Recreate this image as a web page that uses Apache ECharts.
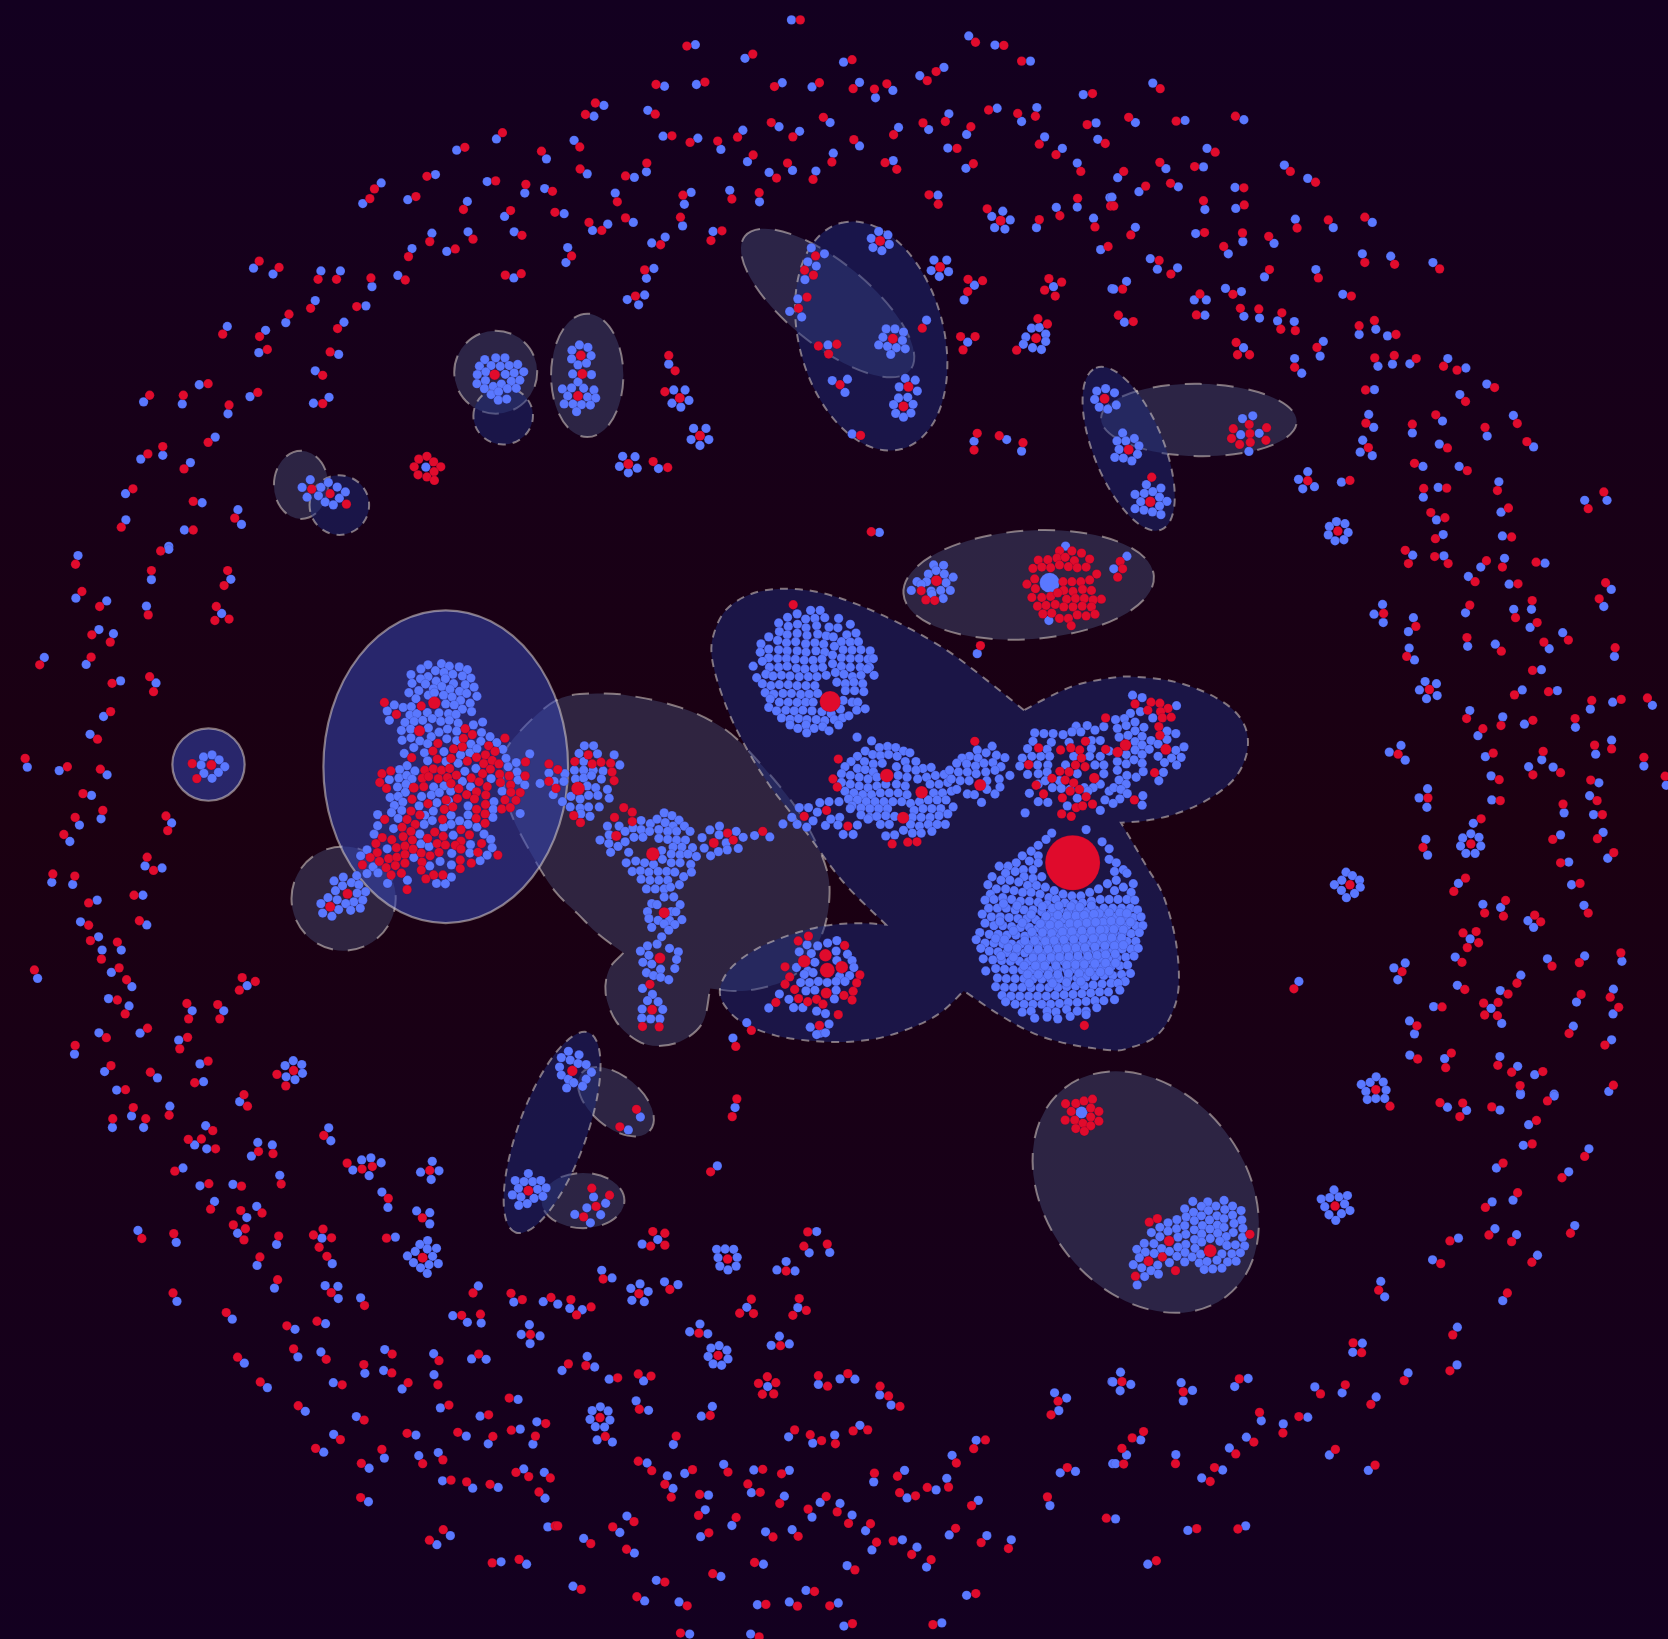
<!DOCTYPE html>
<html><head><meta charset="utf-8"><style>html,body{margin:0;padding:0;background:#1a0012}#c{width:1668px;height:1639px}</style>
<script src="https://cdn.jsdelivr.net/npm/echarts@6/dist/echarts.min.js"></script></head><body><div id="c"></div>
<script>
// Node readings per sheet of the picture (sheet-local reading units, three to a picture unit).
const blueNW=[[1400,398],[1288,430],[1541,455],[1228,500],[1075,524],[1023,583],[1150,572],[1374,520],[1480,553],[1536,540],[1318,577],[1423,620],[1218,668],[1320,664],[1450,664],[1162,712],[1260,720],[715,768],[770,785],[905,776],[960,776],[1122,789],[1049,821],[1449,796],[889,861],[1032,876],[970,923],[806,924],[641,935],[749,946],[730,1010],[955,1015],[889,1062],[562,1102],[405,1151],[514,1157],[705,1136],[928,1138],[884,1155],[643,1185],[607,1252],[459,1304],[397,1315],[537,1325],[354,1414],[570,1440],[671,1460],[681,1502],[355,1489],[520,1518],[476,1565],
[1367,1030],[1398,1025],[1424,1025],[1352,1049],[1385,1047],[1411,1049],[1436,1047],[1460,1044],[1370,1065],[1425,1072],[1450,1068],[1477,1065],[1346,1073],[1345,1099],[1369,1090],[1442,1092],[1466,1089],[1366,1113],[1391,1107],[1414,1100],[1431,1113],[1456,1112],[1385,1130],[1406,1122],[1405,1146],[1429,1143],
[875,1374],[852,1396],[866,1424],[905,1396],[926,1382],[951,1395],[974,1409],[898,1420],[957,1427],[917,1438],[940,1446],[1201,1338]];
const redNW=[[1417,380],[1311,422],[1527,433],[1204,505],[1056,541],[1043,569],[1173,563],[1398,518],[1483,528],[1558,548],[1307,600],[1440,603],[1565,608],[1212,692],[1334,685],[1472,674],[1152,735],[1284,713],[731,748],[787,766],[897,800],[949,800],[1143,802],[1046,796],[1425,788],[1470,784],[876,883],[1006,878],[952,941],[815,900],[628,957],[732,964],[754,1001],[931,1008],[910,1075],[587,1099],[422,1132],[517,1132],[727,1124],[910,1156],[646,1160],[587,1267],[459,1279],[417,1300],[519,1343],[375,1400],[545,1436],[662,1484],[342,1510],[545,1518],
[879,1401],[931,1414],[977,1444],[1181,1315],[1204,1307],[1223,1323],[1243,1337],[1168,1337],[1224,1351],[1179,1360],[1204,1366],[1225,1376]];
const hubNW=[[1395,1073,10.5]];

const blueN=[[664,57],[393,128],[533,167],[811,178],[1164,103],[1238,129],[1338,175],[306,247],[396,242],[638,237],[722,249],[856,236],[901,280],[950,259],[1026,217],[1094,193],[135,302],[107,333],[259,316],[1487,271],[1244,310],[1356,308],[1313,348],[1108,326],[1523,352],[302,390],[400,396],[465,428],[527,373],[629,363],[687,376],[773,351],[856,418],[782,439],[1051,371],[966,365],[1158,385],[1105,424],[1378,392],[1428,425],[1528,399],[1470,467],[51,402],[88,498],[221,508],[255,492],[540,463],[601,494],[667,488],[733,490],[951,460],[1156,482],[167,553],[381,551],[362,585],[490,545],[574,578],[1077,559],[23,612],[218,637],[146,642],[103,660],[357,647],[270,696],[308,679],[443,663],[1562,566],[1470,593],[1411,594],[1516,625],[1355,652],[1536,715],[33,709],[28,752],[276,769],[255,797],[201,858],[250,845],[233,873],[720,710],[757,727],[710,750],[734,762],[702,801],[682,856],[659,892],[693,908],[1045,917],[318,1043],[767,988],[1161,980],[1179,1264],[1271,1259],[1313,1292],[835,1243],[289,1342],[912,1525],
[66,988],[45,1003],[90,995],[44,1028],[99,1019],[62,1045],[86,1040],[47,1071],[100,1073],[62,1094],[18,1114],[44,1111],[78,1112],[107,1117],[33,1134],[89,1137],[112,1140],[23,1157],[48,1157],[72,1159],[97,1160],[58,1179],
[332,1117],[364,1117],[327,1155],[352,1166],[375,1147],[388,1227],[423,1227],[381,1259],[431,1259],[406,1276],[188,1307],[223,1308],[179,1336],[229,1341],[204,1354],
[910,663],[936,673],[889,683],[940,700],[894,709],[919,718],[931,942],[956,942],[980,951],[922,966],[977,975],[910,988],[935,992],[960,996],[985,999],[944,1015],[779,1090],[822,1086],[815,1124],
[985,1084],[1013,1089],[968,1108],[1019,1120],[966,1140],[992,1138],[952,1159],[1007,1158],[958,1184],[1001,1183],[980,1195],
[1066,745],[1102,745],[1058,775],[1107,778],[1081,792],[1180,817],[1151,859],[1403,821],[1568,827],
[1341,940],[1363,938],[1325,965],[1381,957],[1318,986],[1381,978],[1344,996],[1369,1001],[1260,605],[1229,620],[1281,630],[1237,652],[1266,656],
[1525,1120],[1550,1113],[1519,1144],[1532,1166],[1556,1172],[1575,1125],[1580,1160]];
const redN=[[689,57],[369,132],[555,155],[835,171],[1183,121],[1263,130],[1313,175],[282,242],[420,235],[616,248],[743,237],[838,254],[898,255],[933,240],[1047,231],[1072,205],[111,295],[83,328],[280,327],[1513,268],[1220,315],[1352,333],[1302,325],[1098,348],[1498,357],[327,389],[378,408],[456,404],[512,393],[607,351],[668,392],[754,336],[840,400],[778,464],[1035,352],[952,386],[1170,363],[1131,425],[1363,413],[1410,443],[1549,411],[1480,491],[67,421],[68,484],[196,504],[256,467],[556,444],[622,510],[653,467],[725,514],[928,466],[961,485],[1177,469],[173,578],[358,559],[496,570],[573,552],[1052,558],[1078,585],[196,624],[93,637],[129,660],[351,622],[295,701],[468,661],[437,689],[1564,590],[1471,568],[1421,618],[1520,650],[1363,629],[1557,706],[44,733],[250,773],[224,848],[732,733],[701,774],[726,788],[708,851],[684,883],[1033,940],[318,1018],[336,1062],[740,991],[792,986],[769,1014],[1141,964],[1182,964],[1148,1002],[1188,1241],[1179,1289],[1250,1248],[1317,1268],[859,1247],[274,1322],[315,1339],[889,1523],
[307,1122],[801,1102],[1162,800],[1203,804],[1161,835],[1390,798],[1426,808],[1378,831],[1408,848],[1359,913],[1386,928],[1299,1003],[1216,598]];
const hubN=[[70,1018,10],[74,1071,10],[62,1134,10],[349,1140,10],[406,1248,10],[204,1329,10],[914,690,10],[950,970,10],[994,1108,10],[980,1164,10],[1083,765,10],[1354,969,10],[1254,632,10],[1547,1142,10]];

const blueNE=[[115,238],[66,351],[206,345],[372,343],[268,425],[152,483],[258,478],[16,509],[76,549],[187,535],[347,537],[0,565],[262,600],[349,597],[486,473],[552,511],[517,628],[624,652],[734,637],[66,651],[236,669],[369,692],[457,697],[328,727],[108,741],[128,771],[185,767],[430,793],[575,772],[706,727],[786,734],[905,752],[41,806],[5,828],[320,826],[365,835],[232,859],[266,859],[262,903],[372,906],[416,911],[651,843],[35,923],[467,919],[514,921],[697,958],[744,943],[777,962],[596,978],[371,996],[587,1020],[515,1027],[535,1069],[750,1049],[791,1043],[840,1042],[947,1027],[998,1054],[1057,1100],[981,1130],[740,1116],[724,1187],[738,1224],[707,1261],[700,1295],[734,1305],[847,1240],[932,1206],[923,1272],[1058,1249],[1132,1190],[1189,1280],[877,1336],[979,1336],[1091,1380],[878,1424],[920,1396],[1333,1433],[1396,1433],[1097,1467],[915,1489],[934,1531],[1101,1535],
[368,1199],[397,1191],[363,1245],[415,1241],[386,1293],[30,1240],[63,1256],[14,1263],[39,1263],[76,1277],[20,1287],[72,1301],[8,1310],[32,1312],[56,1320],[97,1388],[138,1398],[65,1416],[91,1413],[115,1408],[134,1424],[81,1437],[155,1436],[134,1449],[65,1457],[90,1461],[114,1466],[138,1474],[552,1351],[526,1373],[571,1394],[538,1400],[647,1381],[633,1494],[613,1508],[657,1500],[610,1532],[666,1525],[629,1549],[654,1546]];
const redNE=[[136,254],[47,336],[181,347],[348,333],[291,436],[135,465],[233,477],[33,491],[95,533],[165,525],[372,538],[5,590],[258,575],[373,587],[503,491],[574,522],[522,653],[610,630],[713,622],[53,673],[261,666],[368,667],[442,677],[315,706],[133,746],[166,785],[444,772],[582,796],[713,752],[797,757],[924,770],[30,828],[341,843],[248,842],[238,902],[362,883],[414,885],[675,848],[18,903],[60,921],[479,896],[476,943],[517,947],[697,933],[740,918],[801,958],[578,995],[350,981],[354,1016],[388,1016],[515,1052],[741,1025],[796,1018],[858,1027],[935,1049],[973,1060],[1079,1110],[997,1150],[715,1117],[716,1212],[723,1282],[847,1215],[913,1188],[946,1283],[1052,1224],[1143,1213],[1170,1265],[853,1327],[1002,1348],[1087,1405],[879,1399],[944,1398],[1387,1409],[1343,1457],[1118,1455],[899,1468],[939,1483],[912,1543],[1127,1538],
[387,1216],[342,1228],[436,1225],[337,1256],[389,1242],[434,1261],[360,1273],[390,1267],[112,1367],[671,1376]];
const hubNE=[[47,1288,10],[108,1437,10.5],[552,1377,9.5],[637,1521,9.5]];

const blueW=[[220,25],[476,7],[427,94],[651,93],[214,147],[301,155],[413,170],[625,191],[279,237],[320,249],[125,317],[243,337],[340,384],[440,390],[292,486],[254,537],[77,631],[167,641],[302,653],[258,712],[285,779],[224,797],[197,844],[484,791],[409,914],[457,920],[146,961],[205,967],[274,1012],[403,998],[227,1074],[414,1083],[278,1117],[288,1155],[342,1155],[106,1236],[314,1219],[372,1260],[306,1294],[364,1315],[697,1257],[542,1329],[631,1329],[395,1393],[279,1392],[504,1413],[210,1453],[295,1503],[564,1481],[444,1521],[574,1532],[329,1556],
[574,602],[598,596],[618,610],[567,625],[634,630],[616,646],[575,649],[598,663],
[1207,338],[1245,335],[1267,342],[1295,344],[1187,350],[1228,355],[1318,352],[1252,360],[1159,366],[1207,372],[1277,365],[1304,370],[1328,376],[1186,378],[1230,385],[1256,378],[1162,391],[1200,393],[1246,400],[1279,392],[1312,395],[1337,402],[1222,407],[1269,408],[1153,418],[1181,412],[1208,425],[1251,425],[1296,414],[1316,420],[1345,428],[1173,435],[1225,418],[1275,430],[1299,440],[1257,450],[1281,453],[1326,448],[1112,453],[1137,460],[1160,458],[1304,465],[1092,470],[1156,482],[1176,478],[1205,475],[1238,476],[1265,478],[1286,480],[1330,472],[1098,497],[1142,503],[1168,500],[1192,497],[1219,492],[1243,500],[1267,497],[1292,505],[1335,510],[1361,502],[1132,526],[1158,522],[1208,519],[1238,531],[1262,522],[1288,528],[1358,532],[1134,554],[1159,547],[1184,556],[1216,544],[1260,550],[1288,555],[1328,565],[1356,557],[1382,544],[1401,561],[1167,575],[1206,564],[1325,590],[1345,578],[1418,580],[1140,592],[1197,590],[1252,587],[1299,596],[1427,606],[1494,593],[1206,613],[1258,615],[1292,620],[1433,630],[1456,618],[1148,627],[1127,638],[1170,642],[1342,635],[1311,643],[1458,645],[1098,667],[1125,662],[1147,655],[1162,665],[1461,668],[1385,664],[1304,672],[1480,682],[1523,678],[1121,688],[1145,680],[1223,688],[1252,685],[1327,687],[1143,703],[1216,711],[1239,704],[1271,700],[1416,700],[1100,718],[1123,715],[1189,715],[1232,733],[1136,731],[1112,741],[1182,742],[1265,728],[1320,742],[1393,730],[1133,755],[1104,761],[1065,767],[1222,757],[1198,769],[1272,769],[1320,768],[1391,752],[1467,764],[1123,778],[1390,775],[1065,799],[1219,784],[1196,795],[1296,785],[1272,795],[1320,795],[1110,807],[1251,803],[1345,803],[1055,823],[1184,823],[1278,826],[1365,823],[1384,838],[1092,865],[1187,851],[1210,858],[1327,853],[1388,862],[1167,890],[1274,878],[1325,877],[1374,883],[1354,899],[1212,914],[1241,901],[1273,911],[1149,955],[1093,964],[1273,946],[1231,964],[1256,965],[1035,868],[1017,885],[1052,917],[1066,934],[1035,936],
[1006,942],[942,957],[968,946],[991,962],[1012,968],[966,971],[946,985],[1031,988],[1007,992],[925,1005],[951,1011],[998,1017],[1023,1012],[905,1022],[975,1022],[955,1039],[1016,1035],[989,1041],[910,1049],[936,1058],
[827,1472],[804,1486],[851,1483],[807,1518],[853,1508],[832,1526]];
const redW=[[213,50],[453,12],[427,68],[642,68],[632,111],[231,128],[281,171],[418,195],[610,171],[606,211],[646,207],[259,252],[311,273],[112,338],[257,316],[316,391],[422,372],[433,415],[312,472],[275,551],[71,606],[190,630],[283,637],[234,707],[290,755],[212,775],[180,824],[468,771],[473,813],[415,889],[433,927],[149,937],[211,943],[250,1020],[378,998],[250,1084],[393,1071],[255,1128],[286,1181],[331,1132],[97,1212],[336,1206],[357,1240],[331,1298],[353,1338],[683,1234],[720,1245],[675,1270],[527,1308],[532,1352],[614,1311],[620,1352],[416,1379],[300,1406],[529,1405],[507,1438],[212,1428],[313,1486],[587,1473],[424,1505],[549,1535],[354,1555],[542,621],[555,664],
[1084,446],[1188,456],[1118,480],[1312,521],[1332,538],[1307,549],[1424,548],[1235,563],[1304,573],[1279,579],[1221,585],[1378,570],[1396,586],[1369,596],[1161,604],[1233,608],[1272,606],[1344,603],[1318,614],[1364,621],[1388,612],[1407,622],[1482,616],[1198,640],[1222,636],[1245,640],[1268,635],[1077,650],[1102,642],[1383,637],[1287,654],[1409,651],[1361,650],[1436,656],[1481,656],[1191,663],[1209,658],[1236,664],[1262,661],[1329,662],[1071,675],[1351,673],[1272,678],[1411,675],[1440,682],[1090,692],[1195,687],[1294,693],[1374,687],[1344,702],[1316,710],[1441,703],[1467,704],[1162,723],[1258,725],[1290,721],[1338,722],[1370,711],[1424,725],[1455,726],[1207,736],[1253,752],[1277,745],[1369,738],[1344,752],[1415,751],[1439,747],[1159,757],[1184,768],[1368,765],[1343,778],[1085,781],[1148,781],[1248,781],[1368,792],[1134,803],[1171,795],[1159,815],[1226,817],[1300,810],[1078,833],[1137,830],[1105,839],[1206,835],[1250,829],[1324,825],[1060,850],[1163,840],[1233,850],[1256,854],[1300,843],[1284,855],[1358,850],[1118,862],[1142,857],[1165,866],[1300,866],[1348,875],[1064,876],[1188,877],[1238,875],[1213,885],[1404,883],[1044,890],[1096,893],[1119,889],[1142,881],[1298,897],[1070,901],[1190,903],[1329,906],[1022,911],[1089,919],[1115,913],[1142,906],[1298,922],[1188,926],[1132,935],[1103,940],[1223,940],[1249,940],[1201,951],[1148,982],
[781,1511],[806,1544]];
const hubW=[[596,625,10],[1225,447,12.5],[1183,527,11],[1167,690,10],[980,994,10],[931,1031,10],[828,1500,9.5]];

const blueC=[[680,192],[718,182],[745,182],[653,202],[704,207],[730,205],[758,203],[797,205],[628,218],[655,228],[681,222],[705,232],[735,226],[770,230],[830,222],[630,243],[652,252],[680,248],[708,254],[738,250],[762,255],[795,232],[820,252],[846,247],[600,258],[625,268],[650,275],[676,272],[704,278],[730,275],[755,279],[782,258],[805,272],[830,273],[853,272],[578,278],[600,293],[628,295],[652,298],[680,298],[705,302],[733,298],[758,302],[785,285],[810,295],[835,296],[860,295],[886,298],[576,302],[600,318],[625,320],[650,320],[675,322],[700,325],[725,325],[750,322],[780,310],[805,318],[830,320],[855,320],[880,322],[895,320],[556,342],[582,328],[602,345],[628,345],[652,342],[678,348],[702,350],[728,348],[752,345],[780,335],[805,342],[830,345],[858,345],[884,345],[566,375],[592,365],[612,370],[636,368],[660,370],[686,372],[712,372],[736,372],[762,368],[788,360],[812,365],[836,372],[860,368],[897,368],[878,350],[582,392],[606,398],[630,395],[655,395],[680,398],[705,398],[730,398],[792,388],[816,392],[840,388],[865,392],[590,418],[614,422],[640,420],[664,420],[690,423],[714,422],[738,420],[816,412],[842,412],[868,415],[604,436],[630,445],[655,445],[680,446],[704,445],[725,445],[810,440],[835,445],[851,445],[600,460],[622,470],[648,468],[672,470],[696,468],[722,470],[750,472],[776,478],[802,465],[848,468],[872,464],[636,490],[660,494],[684,492],[708,495],[734,495],[758,498],[785,495],[808,490],[826,484],[660,510],[682,520],[705,510],[728,520],[752,515],[797,510],[707,533],[770,527],[849,545],
[890,556],[935,572],[958,575],[912,575],[872,585],[980,585],[850,600],[893,595],[915,598],[938,595],[962,600],[998,590],[832,615],[870,615],[895,622],[920,620],[1015,615],[985,615],[815,630],[850,635],[872,638],[895,645],[960,630],[990,635],[1035,635],[1058,632],[1015,640],[805,650],[830,655],[855,660],[880,665],[905,660],[965,655],[990,660],[1020,665],[1045,660],[1070,655],[1095,652],[805,675],[830,680],[855,685],[880,690],[905,685],[930,680],[960,680],[985,685],[1055,680],[1080,680],[1105,675],[815,700],[840,705],[865,710],[890,710],[915,705],[940,705],[965,705],[990,710],[1065,705],[1090,705],[1115,700],[825,722],[850,725],[875,730],[900,730],[925,730],[950,730],[975,730],[1000,735],[1025,730],[1050,725],[1075,725],[1100,725],[835,742],[860,748],[885,750],[910,750],[935,750],[1010,755],[1035,750],[1060,750],[1085,750],[1120,745],[860,768],[885,775],[905,772],[930,770],[955,772],[1005,775],[1030,775],[1055,775],[1080,770],[1105,765],[880,780],[915,795],[940,795],[1000,795],[1025,800],[1050,795],[1075,795],[1098,795],[930,828],[955,825],[980,812],[1005,820],[1030,820],[1060,815],
[1188,582],[1230,571],[1166,600],[1190,605],[1213,590],[1242,597],[1266,604],[1145,605],[1130,620],[1158,622],[1183,628],[1207,620],[1232,618],[1255,630],[1110,640],[1135,645],[1160,645],[1185,650],[1212,645],[1238,640],[1280,655],[1115,665],[1140,670],[1165,670],[1215,670],[1250,665],[1130,695],[1160,708],[1180,710],[1215,695],[1238,708],[1252,688],[1200,732],
[798,730],[770,730],[744,733],[712,747],[686,747],[737,760],[725,785],[680,795],[665,775],[707,803],[760,798],[775,780],[800,775],[830,750],[795,797],[850,797],[810,824],[838,824],[640,794],[603,831],[560,827],
[461,800],[508,815],[434,811],[528,832],[412,833],[460,825],[480,848],[514,864],[418,863],[458,873],[436,885],[483,868],
[305,762],[266,793],[327,770],[347,783],[240,784],[285,780],[308,790],[330,800],[362,800],[145,800],[178,800],[217,805],[240,810],[264,815],[290,810],[315,815],[340,815],[378,815],[124,840],[150,825],[195,815],[220,832],[245,832],[290,835],[315,838],[340,840],[365,840],[149,850],[175,858],[195,845],[330,860],[355,860],[385,862],[154,875],[205,875],[298,870],[325,880],[350,882],[372,880],[396,887],[198,905],[225,900],[250,905],[275,910],[300,895],[325,905],[350,905],[380,910],[215,930],[238,928],[262,932],[288,930],[312,930],[335,932],[382,932],[240,952],[265,955],[290,955],[315,955],[360,945],[255,980],[280,980],[305,980],[348,968],[323,975],
[80,570],[106,570],[65,592],[117,593],[164,596],[78,615],[180,625],[52,640],[78,640],[105,640],[133,642],[25,650],[55,665],[78,662],[100,655],[128,665],[-5,672],[22,672],[145,695],[88,685],[112,690],[-8,710],[18,730],[42,715],[68,722],[92,712],[118,712],[150,720],[40,745],[68,748],[92,745],[122,745],[96,772],[70,765],[-20,648],
[305,1003],[332,1003],[270,1022],[350,1025],[258,1045],[285,1025],[325,1045],[338,1045],[262,1065],[288,1070],[355,1068],[320,1070],[335,1082],[270,1090],[305,1080],[318,1098],[298,1117],
[285,1138],[258,1143],[238,1158],[320,1150],[345,1160],[262,1170],[340,1182],[245,1190],[270,1195],[335,1208],[255,1220],[295,1210],[275,1228],[295,1233],[318,1240],
[244,1265],[272,1282],[258,1300],[288,1303],[243,1324],[301,1325],[242,1350],[267,1352],[293,1352],
[708,1140],[738,1143],[766,1135],[792,1128],[686,1160],[720,1165],[790,1158],[822,1167],[678,1205],[730,1190],[792,1185],[835,1185],[710,1215],[840,1205],[700,1225],[725,1220],[800,1230],[828,1228],[690,1248],[715,1248],[740,1245],[765,1248],[790,1245],[815,1245],[705,1272],[730,1270],[790,1270],[630,1281],[657,1296],[785,1295],[670,1320],[696,1320],[600,1321],[735,1330],[760,1337],[770,1367],[717,1376],[745,1393],[735,1397],[760,1392],
[538,1363],[499,1407],[1188,306],[1323,762],[35,1445],[65,1455],[15,1463],[40,1470],[62,1480],[85,1483],[10,1490],[100,1505],[15,1513],[35,1525],[85,1525],[50,1535],[75,1545],[30,1550],
[1065,52],[1093,53],[1050,78],[1072,68],[1095,78],[1120,87],[1018,100],[1045,100],[1100,103],[1002,125],[1030,108],[1058,127],[1085,125],[1112,125],[1060,135],[1092,148],[1390,211],[1437,-2],
[1467,514],[1498,512],[1350,533],[1376,535],[1402,535],[1430,538],[1455,530],[1480,530],[1520,525],[1545,515],[1345,557],[1397,560],[1447,560],[1510,555],[1535,555],[1330,578],[1385,580],[1460,600],[1510,578],[1315,605],[1342,600],[1367,600],[1392,600],[1505,600],[1535,600],[1560,585],[1308,628],[1358,625],[1387,625],[1437,625],[1520,625],[1545,625],[1330,652],[1360,650],[1385,645],[1420,670],[1470,650],[1545,650],[1335,706],[1360,680],[1380,670],[1535,680],[1515,690],[1400,690],[1425,692],[1450,695],[1490,690],[1360,730],[1387,732],[1442,742],[1470,720],[1535,755],[1500,700],[1560,700],[1548,725]];
const mainBlue=[[1398,820],[1382,838],[1360,855],[1495,810],[1540,845],[1340,872],[1315,885],[1360,885],[1560,865],[1298,905],[1335,900],[1360,905],[1275,915],[1318,925],[1345,925],[1560,895],[1580,905],[1250,915],[1268,935],[1295,930],[1345,950],[1320,945],[1370,945],[1575,930],[1600,925],[1230,945],[1255,955],[1280,955],[1305,960],[1330,970],[1355,970],[1380,975],[1405,985],[1430,995],[1455,1000],[1480,1000],[1505,990],[1530,980],[1555,965],[1580,955],[1610,935],[1628,965],[1218,968],[1242,980],[1268,980],[1292,985],[1316,990],[1340,990],[1365,995],[1390,1005],[1575,985],[1600,975],[1622,990],
[1225,995],[1210,1012],[1235,1010],[1260,1005],[1285,1010],[1310,1015],[1335,1015],[1360,1018],[1385,1025],[1410,1010],[1435,1020],[1460,1022],[1485,1020],[1510,1015],[1535,1010],[1560,1010],[1585,1010],[1610,1010],[1632,1012],
[1220,1035],[1245,1035],[1270,1035],[1295,1040],[1320,1040],[1345,1040],[1370,1045],[1395,1050],[1420,1040],[1445,1045],[1470,1045],[1495,1045],[1520,1040],[1545,1035],[1570,1035],[1595,1035],[1620,1035],[1640,1040],
[1202,1052],[1228,1060],[1253,1060],[1278,1062],[1303,1065],[1328,1065],[1353,1068],[1378,1070],[1403,1072],[1428,1068],[1453,1068],[1478,1068],[1503,1065],[1528,1062],[1553,1060],[1578,1060],[1603,1060],[1628,1062],[1650,1060],
[1210,1078],[1235,1085],[1260,1085],[1285,1088],[1310,1090],[1335,1090],[1360,1092],[1385,1095],[1410,1095],[1435,1092],[1460,1090],[1485,1090],[1510,1088],[1535,1085],[1560,1085],[1585,1085],[1610,1085],[1635,1085],[1655,1085],
[1195,1105],[1222,1110],[1247,1110],[1272,1112],[1297,1112],[1322,1115],[1347,1115],[1372,1118],[1397,1118],[1422,1115],[1447,1115],[1472,1112],[1497,1110],[1522,1110],[1547,1108],[1572,1108],[1597,1108],[1622,1108],[1645,1105],
[1185,1125],[1210,1135],[1235,1135],[1260,1137],[1285,1138],[1310,1138],[1335,1140],[1360,1142],[1385,1142],[1410,1140],[1435,1138],[1460,1137],[1485,1135],[1510,1135],[1535,1133],[1560,1132],[1585,1130],[1610,1130],[1635,1130],
[1198,1150],[1222,1158],[1247,1160],[1272,1162],[1297,1162],[1322,1163],[1347,1165],[1372,1165],[1397,1165],[1422,1163],[1447,1162],[1472,1160],[1497,1160],[1522,1158],[1547,1155],[1572,1155],[1597,1152],[1622,1152],[1642,1150],
[1205,1180],[1232,1183],[1257,1185],[1282,1187],[1307,1187],[1332,1188],[1357,1190],[1382,1188],[1407,1188],[1432,1187],[1457,1185],[1482,1185],[1507,1183],[1532,1180],[1557,1180],[1582,1178],[1607,1175],[1630,1172],
[1212,1215],[1240,1208],[1265,1210],[1290,1212],[1315,1212],[1340,1213],[1365,1213],[1390,1213],[1415,1212],[1440,1210],[1465,1210],[1490,1208],[1515,1205],[1540,1205],[1565,1203],[1590,1200],[1612,1198],[1620,1222],
[1245,1235],[1270,1237],[1295,1237],[1320,1237],[1345,1238],[1370,1238],[1395,1238],[1420,1237],[1445,1235],[1470,1235],[1495,1232],[1520,1230],[1545,1228],[1570,1228],[1595,1225],[1605,1245],
[1240,1260],[1265,1262],[1290,1262],[1315,1262],[1340,1263],[1365,1263],[1390,1262],[1415,1262],[1440,1260],[1465,1258],[1490,1258],[1515,1255],[1540,1252],[1565,1250],[1585,1250],[1590,1270],
[1258,1285],[1283,1287],[1308,1287],[1333,1287],[1358,1287],[1383,1287],[1408,1285],[1433,1283],[1458,1282],[1483,1280],[1508,1278],[1533,1275],[1558,1275],[1575,1297],
[1268,1303],[1295,1310],[1320,1310],[1345,1310],[1370,1310],[1395,1310],[1420,1308],[1445,1305],[1470,1305],[1495,1302],[1520,1300],[1545,1300],
[1315,1333],[1340,1330],[1385,1330],[1410,1332],[1440,1325],[1470,1330],[1495,1330],[1525,1320],[1350,1350],[1385,1347],[1415,1352],[1450,1345],[1495,1340]];
const mainCore=[[1400,1035],[1418,1028],[1452,1030],[1477,1032],[1510,1028],[1532,1050],[1560,1048],[1590,1048],[1610,1050],[1382,1058],[1415,1055],[1441,1056],[1466,1057],[1490,1055],[1517,1052],[1543,1075],[1566,1072],[1592,1072],[1620,1075],[1366,1080],[1393,1083],[1418,1083],[1449,1079],[1472,1080],[1497,1077],[1522,1075],[1548,1097],[1573,1096],[1600,1097],[1342,1103],[1372,1105],[1398,1107],[1428,1103],[1455,1102],[1483,1100],[1510,1100],[1535,1097],[1322,1128],[1350,1128],[1380,1130],[1405,1128],[1432,1126],[1460,1125],[1487,1123],[1515,1122],[1543,1120],[1568,1120],[1595,1120],[1300,1150],[1332,1152],[1360,1153],[1388,1153],[1415,1151],[1440,1150],[1466,1149],[1492,1148],[1520,1146],[1548,1143],[1575,1143],[1600,1141],[1345,1177],[1370,1177],[1396,1176],[1420,1175],[1446,1174],[1472,1172],[1500,1172],[1526,1170],[1550,1168],[1577,1166],[1290,1175],[1255,1172],[1275,1148],[1240,1122],[1265,1125],[1290,1100],[1252,1073],[1315,1077],[1340,1053],[1300,1028],[1262,1022],[1372,1030],[1440,1198],[1465,1197],[1410,1200],[1378,1200],[1352,1200],[1320,1200],[1490,1196],[1520,1194],[1550,1192],[1578,1192],[1330,1225],[1360,1225],[1388,1226],[1415,1225],[1445,1222],[1475,1222],[1505,1218],[1535,1218],[1560,1215],[1335,1250],[1400,1250],[1440,1248],[1480,1245]];
const redC=[[669,166],[796,608],[781,665],[793,688],[948,851],[992,846],[1018,845],[1181,557],[700,772],[763,755],[823,800],[583,815],[484,820],[500,840],[191,747],[215,760],[165,775],[215,787],[91,596],[53,615],[102,622],[127,617],[154,620],[158,645],[164,670],[5,638],[0,692],[50,770],[69,790],[-20,622],[-20,672],[265,1253],[244,1374],[291,1375],
[712,1115],[683,1129],[814,1142],[646,1203],[659,1232],[646,1253],[857,1226],[848,1249],[673,1268],[838,1273],[812,1285],[835,1298],[684,1294],[710,1303],[735,1296],[753,1310],[620,1305],[796,1340],[551,1385],[507,1431],[1197,283],[1490,1371],
[1030,126],[1043,152],[1068,154],
[1420,12],[1455,12],[1482,18],[1360,38],[1387,37],[1413,32],[1436,30],[1462,40],[1505,35],[1345,62],[1370,58],[1395,60],[1420,52],[1445,57],[1470,60],[1495,58],[1525,78],[1350,92],[1430,100],[1455,100],[1480,100],[1505,95],[1328,107],[1352,120],[1432,125],[1458,128],[1485,122],[1510,125],[1342,145],[1370,145],[1395,142],[1415,132],[1440,150],[1465,148],[1490,148],[1538,150],[1515,152],[1358,170],[1382,168],[1408,165],[1432,172],[1458,172],[1484,170],[1510,172],[1373,192],[1398,190],[1420,205],[1445,205],[1470,195],[1495,198],[1520,193],[1453,226],
[1550,490],[1361,576],[1423,582],[1452,576],[1477,582],[1493,557],[1550,580],[1482,605],[1465,625],[1492,630],[1421,643],[1447,645],[1399,663],[1436,668],[1460,676],[1354,683],[1450,700],[1476,695],[1375,708],[1428,719],[1495,716],[1467,747],[1485,742],[1513,737],[1426,765],[1453,772]];
const hubC=[[773,443,21],[933,655,13.5],[1031,703,12.5],[979,776,12],[1196,682,12],[445,848,10],[273,880,13.5],[170,828,10],[62,692,13.5],[305,1048,11],[293,1178,11],[271,1326,10],[760,1170,12.5],[700,1187,12.5],[806,1204,12.5],[765,1213,15],[762,1278,11],[743,1371,9.5],[46,1501,10.5],[1073,97,11],[1333,624,9.5],[1518,662,10.5],[1457,905,55]];
const hubBlueC=[[1392,103,20]];

const blueE=[[58,425],[85,432],[182,455],[115,490],[80,472],[52,477],[35,492],[10,495],[65,502],[40,512],[15,520],[90,517],[155,528],[180,535],[65,527],[45,540],[20,545],[85,543],[155,552],[203,573],[110,555],[130,565],[180,583],[65,558],[85,568],[105,580],[195,603],[40,595],[65,582],[85,595],[130,600],[168,605],[148,618],[182,625],[15,615],[40,622],[62,610],[85,620],[145,646],[132,670],[15,640],[42,655],[68,660],[88,644],[20,668],[40,680],[5,690],[25,695],[43,707],[22,722],[87,713],[85,740],[3,735],[42,27],[5,63],
[848,24],[936,26],[1040,58],[1107,33],[1221,47],[1005,85],[1120,107],[1408,122],[1387,171],[763,165],[739,193],[765,217],[850,203],[836,243],[997,189],[1133,179],[1183,179],[1179,231],[1271,246],[1003,285],[1081,279],[1233,292],[1417,314],[838,290],[853,324],[1211,352],[883,386],[915,392],[867,410],[917,426],[887,435],[1157,410],[1256,412],[1349,465],[1412,445],[1524,454],[1009,469],[1102,487],[1163,508],[1307,517],[1032,541],[815,569],[782,588],[827,611],[1409,554],[1364,594],[1053,601],[1212,610],[1500,628],[1175,630],[1244,631],[1563,683],[1069,656],[1373,676],[890,693],[866,719],[888,746],[1071,725],[1347,713],[1275,762],[1358,767],[1019,792],[1012,822],[989,834],[1035,832],[983,857],[1040,857],[998,878],[1024,878],[885,838],[890,883],[1265,825],[1385,818],[1398,892],[660,932],[678,942],[698,955],[648,955],[627,968],[700,975],[647,984],[684,993],[661,1005],[1288,903],[977,964],[1296,968],[1046,1024],[1096,1033],[1331,1027],[1173,1071],[1189,1090],[1010,1123],[968,1175],[1228,1180],[1333,1172],[1438,1187],[827,1192],[795,1206],[806,1240],[1153,1227],[527,1245],[974,1256],[1414,1267],[1095,1271],[1310,1304],[907,1317],[1069,1322],[1099,1365],[1413,1338],[1301,1373],[839,1358],[853,1395],[1409,1412],[840,1456],[938,1466],[1094,1460],[1144,1488],[1192,1512],[703,1540],[728,1534],[745,1518],[765,1533],[716,1560],[773,1556],[1152,1565],[1401,1560],[1247,1568]];
const redE=[[65,450],[110,445],[135,448],[101,468],[158,463],[137,472],[142,490],[167,488],[132,515],[135,540],[120,647],[63,725],[23,42],[30,63],[16,87],
[827,10],[836,48],[910,28],[948,48],[1056,40],[1101,58],[1196,44],[1024,100],[1145,106],[1392,103],[1374,149],[766,191],[857,228],[1009,167],[1185,154],[1138,203],[1199,217],[1287,267],[1001,260],[1098,299],[1218,273],[1419,289],[831,314],[1186,354],[1135,424],[1231,415],[1353,440],[1436,437],[1510,433],[1000,492],[1046,521],[1097,512],[1187,497],[1306,492],[807,594],[1409,579],[1361,568],[1075,591],[1216,586],[1500,603],[1187,653],[1265,647],[1560,657],[1092,667],[1350,668],[891,719],[1095,727],[1368,727],[1272,737],[1383,767],[1041,779],[877,861],[1243,838],[1369,836],[1415,876],[1265,905],[997,949],[964,987],[1320,964],[1110,1013],[1051,1049],[1104,1058],[1343,1049],[1192,1055],[1209,1074],[990,1106],[1027,1102],[1034,1134],[1002,1148],[987,1190],[1241,1201],[1318,1191],[1435,1163],[818,1217],[1142,1250],[513,1266],[995,1268],[1405,1290],[1323,1282],[1117,1281],[931,1318],[1048,1307],[1089,1305],[1051,1341],[1087,1343],[1429,1319],[1289,1394],[860,1372],[1390,1427],[862,1467],[957,1450],[941,1492],[1088,1485],[1127,1505],[1215,1503],[1151,1543],[1414,1542]];
const hubE=[[38,568,11.5],[16,588,10.5],[152,580,11],[895,409,9.5],[1012,851,9.5],[671,968,9.5],[744,1555,9.5]];

const blueSW=[[317,97],[371,64],[405,97],[479,36],[676,23],[580,92],[549,147],[583,158],[727,140],[709,179],[768,147],[927,98],[933,135],[516,213],[564,264],[657,260],[789,234],[605,309],[724,323],[696,355],[670,400],[389,392],[497,426],[780,432],[908,414],[725,492],[937,487],[774,557],[499,595],[917,550],[953,552],[954,587],[1017,585],[655,646],[832,675],[918,659],[840,754],[905,740],[1085,733],[689,772],[1029,801],[1082,793],[754,842],[940,828],[861,910],[1005,925],[1134,846],[941,976],[913,1027],[1084,1044],[1041,1073],[1173,978],[1181,1037],[1236,1028],[1315,981],[1377,1003],[1467,961],[1503,1004],[1514,940],[1242,900],[1354,924],[1461,876],[1224,805],[1223,745],[1330,760],[1371,761],[1477,1075],[1535,1085],[1248,1109],[1333,1130],[1405,1128],[1537,1159],[1039,1169],[1270,1266],[1232,1292],[1413,1341],[1485,1348],[1545,1241],[1349,551],[1449,597],[1532,596],[1277,636],[1318,655],[1357,657],
[1020,190],[1046,184],[1075,198],[995,219],[1041,235],[1219,194],[1186,225],[1238,221],[1216,246],[1077,282],[1094,326],[1175,336],[1212,341],[1212,373],[1115,411],
[1206,421],[1184,432],[1171,452],[1205,445],[1231,443],[1149,465],[1220,466],[1166,484],[1210,490],[1236,487],[1186,499],[1205,515],
[1490,229],[1453,249],[1478,252],[1502,252],[1525,249],[1462,271],[1516,274],[1540,270],[1445,290],[1469,296],[1506,300],[1531,294],[1463,320],[1487,315],[1493,662],[1470,690],[1523,694],[1495,716]];
const redSW=[[318,72],[376,40],[411,72],[477,62],[688,3],[698,36],[600,106],[531,131],[568,130],[608,158],[729,166],[770,172],[913,120],[493,222],[589,258],[681,265],[793,259],[594,331],[679,335],[739,342],[658,376],[692,387],[688,419],[400,415],[490,401],[786,408],[884,405],[911,388],[935,413],[900,440],[733,468],[922,466],[783,533],[488,571],[934,570],[1028,607],[638,627],[809,665],[894,652],[828,731],[920,761],[1106,746],[670,755],[1026,776],[1105,800],[734,826],[965,834],[1151,828],[841,894],[1027,935],[960,991],[890,1016],[1077,1019],[1019,1059],[1148,973],[1192,1060],[1249,1049],[1291,970],[1390,982],[1442,964],[1510,981],[1539,945],[1266,892],[1378,920],[1436,872],[1235,834],[1238,765],[1350,746],[1455,1085],[1491,1097],[1552,1101],[1272,1107],[1316,1112],[1382,1119],[1520,1141],[1017,1157],[1250,1249],[1211,1279],[1388,1344],[1464,1334],[1566,1238],[1334,571],[1441,572],[1473,590],[1554,584],[1302,635],[1355,632],
[979,199],[1021,216],[1050,209],[1212,220],[1095,300],[1191,356],[1090,414],[1496,690]];
const hubSW=[[1192,470,10],[1490,278,10]];

const blueS=[[505,40],[455,207],[238,67],[204,104],[106,296],[140,314],[87,327],[53,346],[126,347],[97,370],[287,418],[243,431],[453,446],[477,445],[501,446],[457,470],[511,469],[462,494],[508,494],[485,505],[735,395],[714,456],[772,455],[649,481],[623,505],[674,508],[129,506],[158,528],[211,558],[237,545],[260,567],[214,592],[249,596],[306,539],[344,547],[5,603],[39,615],[74,619],[538,612],[682,613],[406,660],[377,682],[428,688],[630,695],[607,721],[658,717],[460,722],[437,729],[482,735],[429,753],[485,760],[443,774],[467,778],[88,753],[109,783],[17,793],[150,818],[247,823],[597,839],[740,833],[801,817],[843,818],[913,863],[945,892],[125,897],[102,908],[147,909],[96,933],[152,935],[111,954],[137,955],[116,992],[159,998],[226,880],[261,907],[441,896],[410,924],[331,1005],[656,983],[724,1001],[786,978],[857,950],[1185,993],[1117,1036],[983,1079],[896,1112],[1102,1102],[990,1158],[1072,1135],[1191,1165],[1406,857],[1440,872],[1418,908],[1422,1086],[1465,1082],[1393,1180],[1568,825],[1570,1060],[257,1058],[314,1095],[330,1131],[363,1088],[473,1062],[558,1078],[658,1079],[551,1143],[644,1153],[430,1150],[421,1192],[408,1269],[496,1237],[200,1210],[180,1257],[78,1274],[221,1316],[745,1171],[801,1174],[722,1213],[835,1207],[873,1252],[891,1307],[591,1255],[666,1249],[977,1278],[1018,1299],[1045,1356],[1109,1264],[1215,1266],[1284,1278],[585,1348],[465,1383],[821,1352],[283,1394],[48,1411],[250,1453],[347,1456],[568,1464],[658,1456],[705,1423],[796,1459],[1158,1437],[812,1525],[1088,1516],[377,1548],[549,1548]];
const redS=[[510,15],[497,66],[436,224],[227,45],[180,95],[101,271],[151,291],[78,353],[273,395],[307,400],[267,437],[307,434],[710,396],[699,437],[765,431],[42,590],[58,634],[99,611],[551,589],[518,629],[557,630],[686,587],[706,621],[668,635],[133,531],[321,561],[84,779],[35,774],[174,814],[232,803],[268,809],[596,811],[571,830],[620,828],[582,861],[614,860],[740,808],[766,838],[823,802],[914,838],[938,866],[970,896],[139,982],[235,904],[435,922],[339,981],[673,963],[717,977],[749,994],[788,1003],[838,966],[879,963],[1211,992],[1178,1017],[1129,1058],[963,1096],[898,1087],[1107,1127],[969,1143],[1014,1152],[1047,1128],[1172,1180],[1416,881],[1396,920],[1442,1071],[1386,1155],[1552,1216],[232,1053],[270,1080],[307,1119],[325,1156],[385,1077],[485,1084],[583,1076],[636,1089],[541,1118],[576,1142],[631,1174],[405,1148],[402,1208],[431,1258],[508,1214],[220,1226],[160,1241],[98,1289],[199,1305],[5,1238],[762,1154],[793,1198],[711,1190],[825,1231],[887,1232],[904,1285],[612,1270],[683,1268],[951,1281],[1003,1320],[1058,1335],[1127,1245],[1199,1286],[1276,1303],[560,1343],[442,1375],[843,1364],[307,1399],[71,1420],[228,1441],[370,1467],[592,1463],[681,1468],[729,1426],[772,1467],[1184,1432],[836,1518],[1063,1521],[351,1545],[573,1556],[649,508],[403,686],[633,722],[113,323],
[1437,29],[1466,28],[1489,21],[1513,16],[1508,41],[1531,51],[1453,51],[1508,67],[1436,76],[1463,76],[1486,85],[1531,79],[1508,92],[1466,100],[1490,108]];
const hubS=[[484,474,9.5],[234,573,9.5],[457,750,9.5],[124,928,9.5]];
const hubBlueS=[[1482,54,12]];

const blueSE=[[720,17],[744,14],[769,14],[946,39],[1000,48],[1094,47],[1152,3],[1247,7],[1175,89],[1160,148],[1345,158],[1084,213],[1288,224],[1072,310],[1131,305],[1080,387],[1141,404],[977,414],[1305,378],[904,476],[1200,463],[758,538],[769,582],[1102,593],[974,669],[706,715],[679,741],[973,777],[835,800],[24,798],[53,833],[23,851],[3,826],[195,828],[227,850],[201,880],[384,816],[346,839],[572,840],[649,857],[745,869],[421,937],[552,927],[483,946],[379,984],[331,1015],[81,992],[41,1035],[10,1060],[180,1034],[312,1078],[253,1101],[613,1035],[723,1079],[10,1218],[214,1251],[377,1238],[101,1348],
[626,276],[590,302],[614,298],[640,296],[664,292],[600,324],[656,316],[612,347],[647,344],[671,335],[631,363],
[228,309],[270,310],[316,306],[205,330],[252,323],[293,322],[340,322],[230,340],[272,335],[318,332],[364,335],[183,361],[209,353],[252,350],[296,350],[340,348],[158,370],[232,364],[275,362],[316,358],[366,362],[135,383],[182,387],[205,378],[255,378],[297,377],[344,372],[369,386],[111,398],[158,394],[208,403],[232,390],[276,388],[316,383],[342,398],[135,410],[186,411],[253,402],[298,400],[368,412],[91,429],[118,430],[208,432],[233,418],[277,415],[322,410],[304,423],[140,444],[186,440],[234,443],[253,425],[324,435],[348,433],[374,436],[70,446],[94,454],[119,458],[162,452],[206,455],[310,459],[338,459],[362,456],[77,470],[183,466],[226,468],[250,460],[60,490],[84,499],[129,491],[162,484],[205,482],[246,485],[268,481],[296,477],[326,482],[350,480],[110,507],[131,517],[260,504],[284,502],[310,500],[92,524],[71,548]];
const redSE=[[784,36],[925,26],[989,27],[981,66],[1071,38],[1228,21],[1197,77],[1185,144],[1333,180],[1103,199],[1269,241],[1053,326],[1144,284],[1063,405],[1127,424],[953,422],[1293,400],[927,487],[1184,483],[752,563],[1115,571],[961,691],[680,714],[704,742],[953,794],[824,822],[28,825],[201,854],[359,817],[588,860],[658,834],[730,890],[416,913],[527,925],[482,972],[400,998],[349,1032],[89,968],[57,986],[28,1016],[33,1061],[179,1060],[289,1071],[277,1111],[630,1019],[742,1064],[239,1246],[355,1247],[125,1338],[105,368],[128,358],[142,468],[389,403],[179,507],[66,523]];
const hubSE=[[629,322,9.5],[161,422,10.5],[277,450,13],[103,480,10]];

// Cluster outlines, in picture units.  Ovals: centre x, centre y, long radius, short radius, tilt.
const greyOvals=[[466,350,39,39,0],[552,353,34,58,0],[283,456,25.5,32,0],[778,285,100,39,39],[1127,395,92,34,1],[967,550,118,51,-4],[323,845,49,49,0],[579,1036,42,24,40],[548,1129,39,26,0],[1077,1121,124,94,52]];
const darkOvals=[[473,391,28,27,0],[319,475,28,28,0],[819,316,110,68,75],[1061,422,82,33,68],[519,1065,100,32,-70]];
const solidOvals=[[196,719,34,34,0],[419,721,115,147,0]];
// Blob outlines, as sheet-local readings of the centre sheet; a third value of 1 marks a sharp corner.
const greyBlob=[[190,1163,1],[150,1210],[140,1280],[170,1360],[230,1415],[290,1430],[360,1412],[415,1360],[435,1265,1],[500,1272],[560,1268],[640,1245],[700,1200],[750,1110],[770,1020],[765,930],[720,820],[650,710],[520,560],[440,500],[350,460],[240,432],[130,420],[0,440],[-128,560],[-150,640],[-128,760],[-58,900],[0,990],[60,1050],[120,1110]];
const darkBlob=[[1320,468,1],[1200,370],[1100,295],[980,225],[850,165],[740,130],[640,120],[550,135],[480,180],[445,250],[440,320],[470,430],[520,545],[600,680],[700,810],[810,960],[930,1082,1],[860,1078],[760,1085],[650,1115],[560,1155],[490,1210],[462,1270],[480,1320],[530,1365],[620,1400],[720,1415],[820,1418],[920,1405],[1020,1370],[1090,1330],[1150,1272,1],[1250,1340],[1350,1395],[1450,1425],[1568,1442],[1618,1435],[1688,1405],[1733,1345],[1756,1260],[1748,1130],[1713,1000],[1668,920],[1628,850],[1593,790,1],[1658,785],[1738,768],[1828,730],[1908,670],[1946,600],[1948,530],[1913,470],[1838,420],[1738,385],[1628,372],[1568,375],[1470,395],[1390,430]];

const PIC_W=1568, PIC_H=1541.33, SHEET_W=1568, SHEET_H=1542.67, READ_Y=0.985;
const sheets=[
 [blueNW,redNW,hubNW,0,0],[blueN,redN,hubN,1,0],[blueNE,redNE,hubNE,2,0],
 [blueW,redW,hubW,0,1],[blueC.concat(mainBlue,mainCore),redC,hubC,1,1],[blueE,redE,hubE,2,1],
 [blueSW,redSW,hubSW,0,2],[blueS,redS,hubS,1,2],[blueSE,redSE,hubSE,2,2]];
const toPic=(p,c,r)=>{const o=[(c*SHEET_W+p[0])/3,(r*SHEET_H+p[1]*READ_Y)/3];if(p.length>2)o.push(p[2]);return o;};
const blues=[],reds=[],hubs=[];
sheets.forEach(([b,rd,h,c,r])=>{b.forEach(p=>blues.push(toPic(p,c,r)));rd.forEach(p=>reds.push(toPic(p,c,r)));h.forEach(p=>hubs.push(toPic(p,c,r)));});
const blueHubs=hubBlueC.map(p=>toPic(p,1,1)).concat(hubBlueS.map(p=>toPic(p,1,2)));
const blobPic=b=>b.map(p=>{const o=toPic(p,1,1);return [o[0],o[1],p[2]||0];});

const STY={
 grey:{fill:'rgba(123,164,226,0.22)',stroke:'rgba(235,225,215,0.5)',lineWidth:2,lineDash:[17,15]},
 dark:{fill:'rgba(29,45,128,0.47)',stroke:'rgba(235,225,215,0.5)',lineWidth:2,lineDash:[8,7]},
 solid:{fill:'rgba(53,69,180,0.55)',stroke:'rgba(235,225,215,0.5)',lineWidth:2.2}
};
const shapes=[];
greyOvals.forEach(o=>shapes.push({k:'grey',o}));
shapes.push({k:'grey',b:blobPic(greyBlob)});
darkOvals.forEach(o=>shapes.push({k:'dark',o}));
shapes.push({k:'dark',b:blobPic(darkBlob)});
solidOvals.forEach(o=>shapes.push({k:'solid',o}));

function ovalPath(api,o){
 const c=api.coord([o[0],o[1]]),s=api.size([1,1])[0];
 const rx=o[2]*s,ry=o[3]*s,a=o[4]*Math.PI/180,dx=rx*Math.cos(a),dy=rx*Math.sin(a);
 return `M${c[0]-dx} ${c[1]-dy}A${rx} ${ry} ${o[4]} 1 1 ${c[0]+dx} ${c[1]+dy}A${rx} ${ry} ${o[4]} 1 1 ${c[0]-dx} ${c[1]-dy}Z`;
}
function blobPath(api,b){
 const p=b.map(q=>{const c=api.coord([q[0],q[1]]);return [c[0],c[1],q[2]];}),n=p.length;
 let d=`M${p[0][0]} ${p[0][1]}`;
 for(let i=0;i<n;i++){
  const a=p[(i-1+n)%n],u=p[i],v=p[(i+1)%n],w=p[(i+2)%n];
  const c1=u[2]?[u[0]+(v[0]-u[0])/3,u[1]+(v[1]-u[1])/3]:[u[0]+(v[0]-a[0])/6,u[1]+(v[1]-a[1])/6];
  const c2=v[2]?[v[0]-(v[0]-u[0])/3,v[1]-(v[1]-u[1])/3]:[v[0]-(w[0]-u[0])/6,v[1]-(w[1]-u[1])/6];
  d+=`C${c1[0]} ${c1[1]} ${c2[0]} ${c2[1]} ${v[0]} ${v[1]}`;
 }
 return d+'Z';
}
const chart=echarts.init(document.getElementById('c'),null,{renderer:'canvas'});
const nodeBorder={borderColor:'rgba(25,5,50,0.35)',borderWidth:0.4,opacity:1};
chart.setOption({
 animation:false,
 backgroundColor:{type:'linear',x:0,y:0,x2:0,y2:1,colorStops:[{offset:0,color:'#130020'},{offset:0.5,color:'#1b0011'},{offset:1,color:'#130020'}]},
 grid:{left:0,right:0,top:0,bottom:0},
 xAxis:{type:'value',min:0,max:PIC_W,show:false},
 yAxis:{type:'value',min:0,max:PIC_H,inverse:true,show:false},
 series:[
  {type:'custom',silent:true,clip:false,z:1,data:shapes.map((_,i)=>[i]),encode:{x:-1,y:-1},
   renderItem:(params,api)=>{const h=shapes[api.value(0)];
    return {type:'path',shape:{pathData:h.o?ovalPath(api,h.o):blobPath(api,h.b)},style:Object.assign({},STY[h.k])};}},
  {type:'scatter',z:3,silent:true,large:false,progressive:0,symbolSize:9.3,data:blues,itemStyle:Object.assign({color:'#5a78ff'},nodeBorder)},
  {type:'scatter',z:4,silent:true,progressive:0,symbolSize:v=>v[2],data:blueHubs,itemStyle:Object.assign({color:'#5a78ff'},nodeBorder)},
  {type:'scatter',z:5,silent:true,progressive:0,symbolSize:9.3,data:reds,itemStyle:Object.assign({color:'#e00b2c'},nodeBorder)},
  {type:'scatter',z:6,silent:true,progressive:0,symbolSize:v=>v[2],data:hubs,itemStyle:Object.assign({color:'#e00b2c'},nodeBorder)}
 ]
});
</script></body></html>
